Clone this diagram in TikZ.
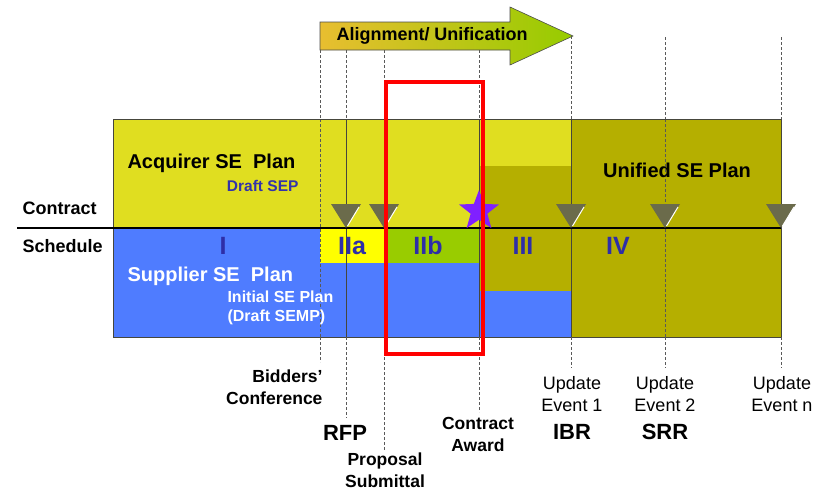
\documentclass[tikz,border=0pt]{standalone}
\usepackage{fontspec}
\setmainfont{Liberation Sans}
\usetikzlibrary{shapes.geometric}
\definecolor{acqyellow}{RGB}{224,222,32}
\definecolor{unolive}{RGB}{181,175,0}
\definecolor{supblue}{RGB}{79,124,255}
\definecolor{brightyellow}{RGB}{255,255,0}
\definecolor{iibgreen}{RGB}{153,204,0}
\definecolor{trigray}{RGB}{107,107,75}
\definecolor{numblue}{RGB}{46,46,168}
\definecolor{sepblue}{RGB}{51,51,170}
\definecolor{arrowgold}{RGB}{232,190,48}
\definecolor{arrowgreen}{RGB}{150,204,0}
\definecolor{starpurple}{RGB}{128,32,255}
\definecolor{boxline}{RGB}{70,70,60}
\begin{document}
\begin{tikzpicture}[x=1pt,y=-1pt,
  evline/.style={densely dashed, gray!70!black, line width=0.6pt},
  inline/.style={boxline, line width=0.7pt},
  milestone/.pic={\fill[trigray] (-15,-24) -- (15,-24) -- (0,0) -- cycle;
                  \draw[white, line width=1pt] (1.5,-2) -- (13,-21);},
  headfont/.style={font=\bfseries\fontsize{20}{24}\selectfont},
  sidefont/.style={font=\bfseries\fontsize{18}{21}\selectfont},
  romfont/.style={font=\bfseries\fontsize{25}{28}\selectfont, text=numblue},
  evfont/.style={font=\bfseries\fontsize{17.5}{22}\selectfont, align=center},
  updfont/.style={font=\fontsize{18}{22}\selectfont, align=center},
  bigfont/.style={font=\bfseries\fontsize{22}{26}\selectfont}]
\useasboundingbox (0,0) rectangle (825,490);
\fill[white] (0,0) rectangle (825,490);

% ---- fills
\fill[acqyellow] (113,119) rectangle (571,228);
\fill[supblue] (113,228) rectangle (571,337);
\fill[unolive] (571,119) rectangle (781,337);
\fill[unolive] (479,166) rectangle (571,291);
\fill[brightyellow] (320,228) rectangle (386,263);
\fill[iibgreen] (386,228) rectangle (479,263);

% ---- event coordinates
\foreach \n/\x/\yt/\yb in {bc/320/50/362, rfp/346/50/418, ps/384/50/451, ca/479/50/412, ue1/571/36/368, ue2/665/37/368, uen/781/37/368}{
  \coordinate (\n-top) at (\x,\yt);
  \coordinate (\n-boxtop) at (\x,119);
  \coordinate (\n-boxbot) at (\x,337);
  \coordinate (\n-bot) at (\x,\yb);
}

% ---- lines inside box
\draw[evline] (bc-boxtop) -- (bc-boxbot);
\draw[inline] (rfp-boxtop) -- (rfp-boxbot);
\draw[evline] (ps-boxtop) -- (ps-boxbot);
\draw[inline] (ca-boxtop) -- (ca-boxbot);
\draw[inline] (ue1-boxtop) -- (ue1-boxbot);
\draw[evline] (ue2-boxtop) -- (ue2-boxbot);
\draw[inline] (113,119) rectangle (781,337);

% ---- lines above and below the box
\foreach \n in {bc, rfp, ps, ca, ue1, ue2, uen}{
  \draw[evline] (\n-top) -- (\n-boxtop);
  \draw[evline] (\n-boxbot) -- (\n-bot);
}

% ---- timeline
\coordinate (tlstart) at (17,228);
\coordinate (tlend) at (781,228);
\draw[black, line width=2pt] (tlstart) -- (tlend);

% ---- milestones
\foreach \x in {346,384,571,665,781}{ \pic at (\x,228) {milestone}; }
\node[star, star points=5, star point ratio=2.4, fill=starpurple, minimum size=42pt, inner sep=0pt] (award) at (479,211) {};

% ---- alignment arrow
\shade[left color=arrowgold, right color=arrowgreen, draw=gray!60!black, line width=0.6pt]
  (320,22) -- (510,22) -- (510,7) -- (573,36) -- (510,65) -- (510,50) -- (320,50) -- cycle;
\node[font=\bfseries\fontsize{18}{21}\selectfont] (align) at (432,36) {Alignment/ Unification};

% ---- red highlight
\draw[red, line width=4pt] (386,82) rectangle (483,354);

% ---- texts
\node[sidefont, anchor=west] (contractlbl) at (19,208) {Contract};
\node[sidefont, anchor=west] (schedlbl) at (19,246) {Schedule};
\node[headfont, anchor=west] (acq) at (124,163) {Acquirer SE\ \ Plan};
\node[font=\bfseries\fontsize{15.5}{18}\selectfont, text=sepblue, anchor=east] (sep) at (302,186) {Draft SEP};
\node[headfont, anchor=west, text=white] (sup) at (124,276) {Supplier SE\ \ Plan};
\node[font=\bfseries\fontsize{16}{19.5}\selectfont, text=white, align=left, anchor=west] (semp) at (224,308) {Initial SE Plan\\(Draft SEMP)};
\node[headfont] (unified) at (677,170) {Unified SE Plan};

\node[romfont] (ph1) at (223,246) {I};
\node[romfont] (ph2a) at (352,246) {IIa};
\node[romfont] (ph2b) at (428,246) {IIb};
\node[romfont] (ph3) at (523,246) {III};
\node[romfont] (ph4) at (618,246) {IV};

\node[evfont, align=right, anchor=east] (bidders) at (326,387.5) {Bidders’\\Conference};
\node[bigfont] (rfp) at (345,433) {RFP};
\node[evfont] (proposal) at (385,470) {Proposal\\Submittal};
\node[evfont] (award lbl) at (478,434) {Contract\\Award};
\node[updfont] (upd1) at (572,394) {Update\\Event 1};
\node[bigfont] (ibr) at (572,432) {IBR};
\node[updfont] (upd2) at (665,394) {Update\\Event 2};
\node[bigfont] (srr) at (665,432) {SRR};
\node[updfont] (updn) at (782,394) {Update\\Event n};
\end{tikzpicture}
\end{document}
